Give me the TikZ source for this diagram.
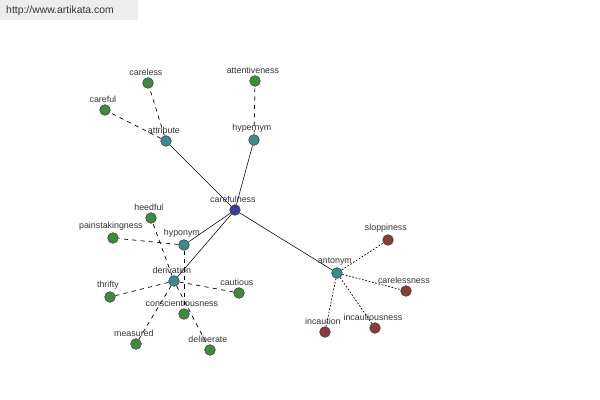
\documentclass[tikz,border=0pt]{standalone}
\usepackage{fontspec}
\setmainfont{Liberation Sans}
\usetikzlibrary{positioning, backgrounds}
\definecolor{wordBlue}{HTML}{3C3C96}
\definecolor{wordTeal}{HTML}{3A8C8C}
\definecolor{wordGreen}{HTML}{3F8A3F}
\definecolor{wordRed}{HTML}{8C3A3A}
\definecolor{labelGray}{HTML}{333333}
\tikzset{
  word/.style={circle, draw=black!75, line width=0.4pt, minimum size=7.6pt, inner sep=0pt},
  wordlabel/.style={font=\fontsize{6.3}{7}\selectfont, text=labelGray, inner sep=1pt, xshift=-1.5pt},
  mainword/.style={word, fill=wordBlue},
  relword/.style={word, fill=wordTeal},
  synword/.style={word, fill=wordGreen},
  antword/.style={word, fill=wordRed},
  rellink/.style={line width=0.4pt, black},
  synlink/.style={line width=0.5pt, black, dash pattern=on 3pt off 3pt},
  antlink/.style={line width=0.5pt, black, dash pattern=on 1.2pt off 1.2pt}
}

\begin{document}
\begin{tikzpicture}[x=0.025cm, y=-0.025cm, every label/.style={wordlabel}, label distance=0pt]
\useasboundingbox (0,0) rectangle (600,400);

%watermark
\node (site) [fill=black!7, minimum width=138*0.025cm, minimum height=20*0.025cm, anchor=north west, inner sep=0pt] at (0,0) {};
\node (siteText) [font=\fontsize{7.4}{8}\selectfont, text=labelGray] at (60,11) {http://www.artikata.com};

\node (carefulness) [mainword, label=above:carefulness] at (235,210) {};

\node (attribute) [relword, label=above:attribute] at (166,141) {};
\node (hypernym) [relword, label=above:hypernym] at (254,140) {};
\node (hyponym) [relword, label=above:hyponym] at (184,245) {};
\node (derivation) [relword, label=above:derivation] at (174,281) {};
\node (antonym) [relword, label=above:antonym] at (337,273) {};

\node (careful) [synword, label=above:careful] at (105,110) {};
\node (careless) [synword, label=above:careless] at (148,83) {};
\node (attentiveness) [synword, label=above:attentiveness] at (255,81) {};
\node (heedful) [synword, label=above:heedful] at (151,218) {};
\node (painstakingness) [synword, label=above:painstakingness] at (113,238) {};
\node (thrifty) [synword, label=above:thrifty] at (110,297) {};
\node (cautious) [synword, label=above:cautious] at (239,293) {};
\node (conscientiousness) [synword, label=above:conscientiousness] at (184,314) {};
\node (measured) [synword, label=above:measured] at (136,344) {};
\node (deliberate) [synword, label=above:deliberate] at (210,350) {};

\node (sloppiness) [antword, label=above:sloppiness] at (388,240) {};
\node (carelessness) [antword, label=above:carelessness] at (406,291) {};
\node (incaution) [antword, label=above:incaution] at (325,332) {};
\node (incautiousness) [antword, label=above:incautiousness] at (375,328) {};

\begin{scope}[on background layer]
\draw[rellink]
	(carefulness) edge (attribute)
	(carefulness) edge (hypernym)
	(carefulness) edge (hyponym)
	(carefulness) edge (derivation)
	(carefulness) edge (antonym);

\draw[synlink]
	(attribute) edge (careful)
	(attribute) edge (careless)
	(hypernym) edge (attentiveness)
	(hyponym) edge (painstakingness)
	(hyponym) edge (conscientiousness);

\draw[synlink]
	(derivation) edge (heedful)
	(derivation) edge (thrifty)
	(derivation) edge (cautious)
	(derivation) edge (measured)
	(derivation) edge (deliberate);

\draw[antlink]
	(antonym) edge (sloppiness)
	(antonym) edge (carelessness)
	(antonym) edge (incaution)
	(antonym) edge (incautiousness);
\end{scope}
\end{tikzpicture}
\end{document}
